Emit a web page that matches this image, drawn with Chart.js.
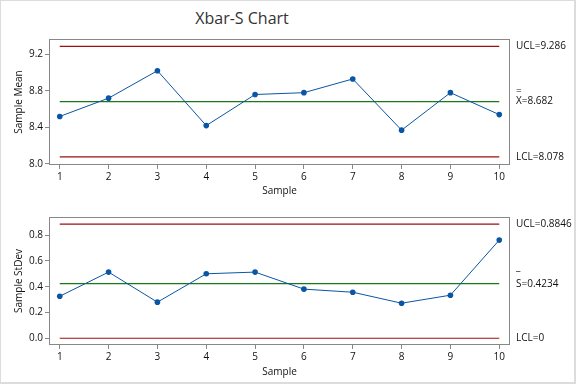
<!DOCTYPE html>
<html lang="en">
<head>
<meta charset="UTF-8">
<title>Xbar-S Chart</title>
<script src="https://cdn.jsdelivr.net/npm/chart.js"></script>
<style>
    body { margin: 0; background: #fff; font-family: 'Open Sans', sans-serif; }
    .frame {
        position: absolute; left: 0; top: 0; width: 576px; height: 384px;
        box-sizing: border-box; border: 1px solid #dcdcdc;
        border-right-width: 2px; border-bottom-width: 2px;
    }
    .title {
        position: absolute; top: 8px; left: 182px; width: 120px;
        text-align: center; font-size: 16px; line-height: 20px; color: #333;
    }
    canvas { position: absolute; left: 0; }
</style>
</head>
<body>
<div class="frame"></div>
<div class="title">Xbar-S Chart</div>
<canvas id="meanChart" width="576" height="197" style="top:0"></canvas>
<canvas id="sdChart" width="576" height="182" style="top:196px"></canvas>

<script>
// data
const samples = [1, 2, 3, 4, 5, 6, 7, 8, 9, 10];
const sampleMeans = [8.52, 8.72, 9.02, 8.42, 8.76, 8.78, 8.93, 8.37, 8.78, 8.54];
const sampleStDevs = [0.326, 0.513, 0.28, 0.50, 0.513, 0.381, 0.357, 0.272, 0.334, 0.761];
const meanLimits = [9.286, 8.682, 8.078];   // UCL, center, LCL
const sdLimits = [0.8846, 0.4234, 0];
const meanTicks = [8.0, 8.4, 8.8, 9.2];
const sdTicks = [0.0, 0.2, 0.4, 0.6, 0.8];

const BLUE = '#0a55a4';
const RED = '#9c0f0f';
const GREEN = '#1a7a1a';
const TEXT = '#111';

Chart.defaults.font.family = "'Open Sans', sans-serif";
Chart.defaults.font.size = 10;
Chart.defaults.color = TEXT;

// box around plot area + limit labels on the right
const sidePlugin = {
    id: 'side',
    afterDraw(chart, args, opts) {
        const ctx = chart.ctx;
        const a = chart.chartArea;
        const y = chart.scales.y;
        ctx.save();
        ctx.strokeStyle = '#888';
        ctx.lineWidth = 1;
        ctx.strokeRect(a.left + 0.5, a.top + 0.5, a.right - a.left - 1, a.bottom - a.top - 1);
        ctx.fillStyle = TEXT;
        ctx.font = "10px 'Open Sans'";
        ctx.textBaseline = 'middle';
        const x = a.right + 6;
        const [ucl, cl, lcl] = opts.limits;
        ctx.fillText('UCL=' + ucl, x, y.getPixelForValue(ucl));
        ctx.fillText(opts.bar, x, y.getPixelForValue(cl) - opts.barGap);
        ctx.fillText(opts.sym + '=' + cl, x, y.getPixelForValue(cl));
        ctx.fillText('LCL=' + lcl, x, y.getPixelForValue(lcl));
        ctx.restore();
    }
};

function limitLine(v, color) {
    return {
        data: [{x: samples[0], y: v}, {x: samples[samples.length - 1], y: v}],
        borderColor: color,
        borderWidth: 1.1,
        pointRadius: 0,
        order: 2
    };
}

function makeChart(id, values, limits, yTicks, yMin, yMax, yTitle, sym, bar, barGap, padTop, xHeight) {
    new Chart(document.getElementById(id), {
        type: 'line',
        data: {
            datasets: [
                {
                    data: samples.map((s, i) => ({x: s, y: values[i]})),
                    borderColor: BLUE,
                    backgroundColor: BLUE,
                    borderWidth: 1,
                    pointRadius: 2.8,
                    pointBorderWidth: 0,
                    order: 1
                },
                limitLine(limits[0], RED),
                limitLine(limits[1], GREEN),
                limitLine(limits[2], RED)
            ]
        },
        options: {
            responsive: false,
            animation: false,
            layout: { padding: { top: padTop, right: 66, left: 0, bottom: 0 } },
            plugins: {
                legend: { display: false },
                tooltip: { enabled: false },
                side: { limits: limits, sym: sym, bar: bar, barGap: barGap }
            },
            scales: {
                x: {
                    type: 'linear',
                    min: 0.78,
                    max: 10.22,
                    afterBuildTicks: s => { s.ticks = samples.map(v => ({value: v})); },
                    afterFit: s => { s.height = xHeight; },
                    ticks: { padding: 2, maxRotation: 0, color: TEXT },
                    grid: { drawOnChartArea: false, tickLength: 4, color: '#888' },
                    border: { display: false },
                    title: { display: true, text: 'Sample', color: TEXT, padding: { top: 0, bottom: 0 } }
                },
                y: {
                    min: yMin,
                    max: yMax,
                    afterBuildTicks: s => { s.ticks = yTicks.map(v => ({value: v})); },
                    afterFit: s => { s.width = 49; },
                    ticks: { padding: 2, color: TEXT, callback: v => v.toFixed(1) },
                    grid: { drawOnChartArea: false, tickLength: 4, color: '#888' },
                    border: { display: false },
                    title: { display: true, text: yTitle, color: TEXT, padding: { top: 13, bottom: 0 } }
                }
            }
        },
        plugins: [sidePlugin]
    });
}

makeChart('meanChart', sampleMeans, meanLimits, meanTicks, 7.989, 9.367, 'Sample Mean', 'X', '=', 10, 39, 32);
makeChart('sdChart', sampleStDevs, sdLimits, sdTicks, -0.052, 0.94, 'Sample StDev', 'S', '_', 17, 21, 33);
</script>
</body>
</html>
